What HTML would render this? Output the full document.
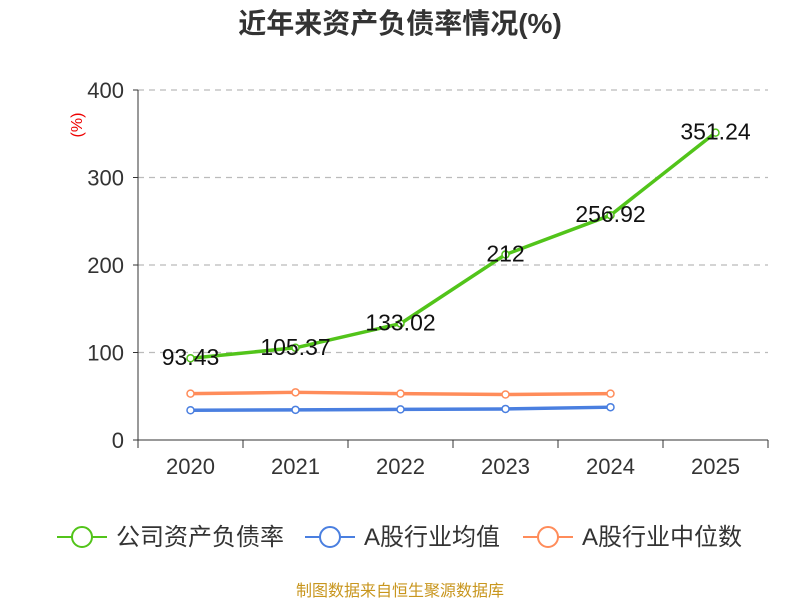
<!DOCTYPE html>
<html><head><meta charset="utf-8"><style>
body{margin:0;background:#fff;font-family:"Liberation Sans","Noto Sans CJK SC",sans-serif;}
</style></head><body>
<svg id="chart" width="800" height="600" xmlns="http://www.w3.org/2000/svg" font-family="Liberation Sans, Noto Sans CJK SC, sans-serif">
<text x="400" y="33" text-anchor="middle" font-size="28" font-weight="bold" fill="#333">近年来资产负债率情况(%)</text>
<text transform="translate(82,125) rotate(-90)" text-anchor="middle" font-size="16" fill="#e00">(%)</text>
<g id="grid"></g><g id="axes"></g><g id="series"></g>
<g>
<g><line x1="57" y1="537" x2="107" y2="537" stroke="#52c41a" stroke-width="2"/><circle cx="82" cy="537" r="10" fill="#fff" stroke="#52c41a" stroke-width="2"/><text x="116" y="545" font-size="24" fill="#333">公司资产负债率</text></g>
<g><line x1="305" y1="537" x2="355" y2="537" stroke="#4a7fe0" stroke-width="2"/><circle cx="330" cy="537" r="10" fill="#fff" stroke="#4a7fe0" stroke-width="2"/><text x="364" y="545" font-size="24" fill="#333">A股行业均值</text></g>
<g><line x1="523" y1="537" x2="573" y2="537" stroke="#ff8c5a" stroke-width="2"/><circle cx="548" cy="537" r="10" fill="#fff" stroke="#ff8c5a" stroke-width="2"/><text x="582" y="545" font-size="24" fill="#333">A股行业中位数</text></g>
</g>
<text x="400" y="596" text-anchor="middle" font-size="16" fill="#c8961e">制图数据来自恒生聚源数据库</text>
</svg>
<script>
const categories=["2020","2021","2022","2023","2024","2025"];
const companyValues=[93.43,105.37,133.02,212,256.92,351.24];
const companyLabels=["93.43","105.37","133.02","212","256.92","351.24"];
const avgValues=[34,34.5,35,35.5,37.5];
const medianValues=[53,54.5,53,52,53];
const yTicks=[0,100,200,300,400];
const NS="http://www.w3.org/2000/svg";
const L=138,R=768,T=90,B=440,yMax=400;
const bw=(R-L)/categories.length;
const xS=i=>L+bw*(i+0.5);
const yS=v=>B-(v/yMax)*(B-T);
function mk(tag,attrs,parent,txt){const e=document.createElementNS(NS,tag);for(const k in attrs)e.setAttribute(k,attrs[k]);if(txt!==undefined)e.textContent=txt;parent.appendChild(e);return e;}
const grid=document.getElementById('grid'),axes=document.getElementById('axes'),ser=document.getElementById('series');
yTicks.forEach(t=>{
 if(t>0){const g=mk('line',{x1:L,x2:R,y1:yS(t),y2:yS(t),stroke:'#bbb','stroke-dasharray':'6,5','stroke-width':1.3},grid);
 
 }
 mk('line',{x1:L-5,x2:L,y1:yS(t),y2:yS(t),stroke:'#333'},axes);
 const tx=mk('text',{x:L-14,y:yS(t)+8,'text-anchor':'end','font-size':22,fill:'#333'},axes,String(t));
 
 
});
mk('line',{x1:L,x2:L,y1:T,y2:B,stroke:'#333'},axes);
mk('line',{x1:L,x2:R,y1:B,y2:B,stroke:'#333'},axes);
for(let i=0;i<=categories.length;i++)mk('line',{x1:L+bw*i,x2:L+bw*i,y1:B,y2:B+8,stroke:'#333'},axes);
categories.forEach((c,i)=>{const tx=mk('text',{x:xS(i),y:B+34,'text-anchor':'middle','font-size':22,fill:'#333'},axes,c);
 
 });
function series(vals,color,name){
 const p=mk('polyline',{points:vals.map((v,i)=>xS(i)+','+yS(v)).join(' '),fill:'none',stroke:color,'stroke-width':3.5,'stroke-linejoin':'round'},ser);
 
 
 vals.forEach((v,i)=>{const c=mk('circle',{cx:xS(i),cy:yS(v),r:3.5,fill:'#fff',stroke:color,'stroke-width':1.5},ser);
  
  });
}
series(avgValues,'#4a7fe0','industry-avg');
series(medianValues,'#ff8c5a','industry-median');
series(companyValues,'#52c41a','company');
companyValues.forEach((v,i)=>{const t=mk('text',{x:xS(i),y:yS(v)+7,'text-anchor':'middle','font-size':23,fill:'#111'},ser,companyLabels[i]);
 
 });
</script>
</body></html>
